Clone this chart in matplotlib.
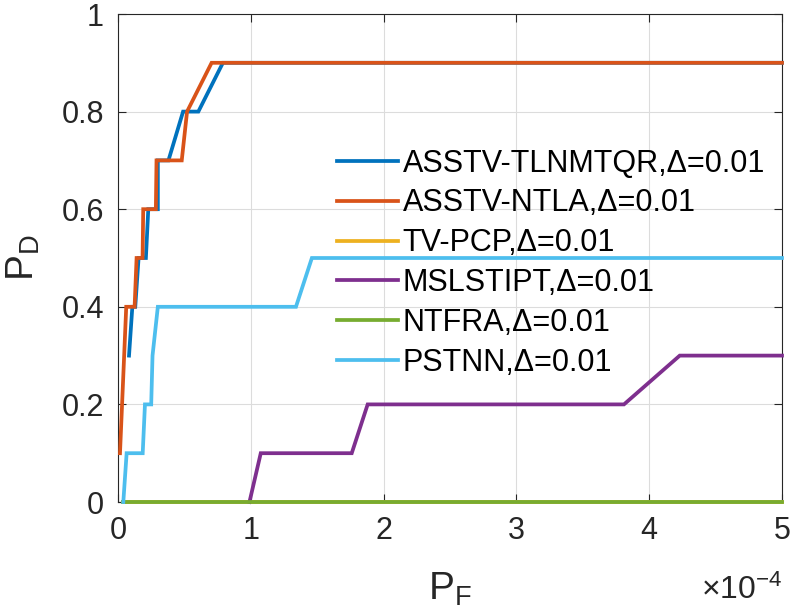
import numpy as np
import matplotlib
matplotlib.use('Agg')
import matplotlib.pyplot as plt

plt.rcParams['font.family'] = ['Liberation Sans', 'DejaVu Sans']
plt.rcParams['mathtext.default'] = 'regular'

# P_F in units of 1e-4, P_D
tlnmtqr_pf = [0.083, 0.108, 0.13, 0.155, 0.21, 0.228, 0.30, 0.30, 0.38, 0.49, 0.605, 0.79, 5.0]
tlnmtqr_pd = [0.3, 0.4, 0.4, 0.5, 0.5, 0.6, 0.6, 0.7, 0.7, 0.8, 0.8, 0.9, 0.9]

ntla_pf = [0.015, 0.062, 0.125, 0.14, 0.185, 0.19, 0.285, 0.29, 0.48, 0.52, 0.705, 5.0]
ntla_pd = [0.1, 0.4, 0.4, 0.5, 0.5, 0.6, 0.6, 0.7, 0.7, 0.8, 0.9, 0.9]

tvpcp_pf = [0.04, 5.0]
tvpcp_pd = [0.0, 0.0]

mslstipt_pf = [0.99, 1.075, 1.76, 1.88, 3.81, 4.23, 5.0]
mslstipt_pd = [0.0, 0.1, 0.1, 0.2, 0.2, 0.3, 0.3]

ntfra_pf = [0.04, 5.0]
ntfra_pd = [0.0, 0.0]

pstnn_pf = [0.04, 0.065, 0.186, 0.203, 0.25, 0.26, 0.30, 1.34, 1.46, 5.0]
pstnn_pd = [0.0, 0.1, 0.1, 0.2, 0.2, 0.3, 0.4, 0.4, 0.5, 0.5]

labels = ['ASSTV-TLNMTQR,\u0394=0.01', 'ASSTV-NTLA,\u0394=0.01', 'TV-PCP,\u0394=0.01',
          'MSLSTIPT,\u0394=0.01', 'NTFRA,\u0394=0.01', 'PSTNN,\u0394=0.01']
colors = ['#0072BD', '#D95319', '#EDB120', '#7E2F8E', '#77AC30', '#4DBEEE']

fig = plt.figure(figsize=(7.94, 6.15), dpi=100)
ax = fig.add_axes([118/794, 1 - 502/615, 664/794, 488/615])

series = [(tlnmtqr_pf, tlnmtqr_pd), (ntla_pf, ntla_pd), (tvpcp_pf, tvpcp_pd),
          (mslstipt_pf, mslstipt_pd), (ntfra_pf, ntfra_pd), (pstnn_pf, pstnn_pd)]
for (x, y), lab, c in zip(series, labels, colors):
    ax.plot(x, y, color=c, lw=2.7, label=lab, clip_on=False, zorder=3,
            solid_joinstyle='miter')

ax.set_xlim(0, 5)
ax.set_ylim(0, 1)
ax.set_xticks([0, 1, 2, 3, 4, 5])
ax.set_yticks([0, 0.2, 0.4, 0.6, 0.8, 1])
ax.set_yticklabels(['0', '0.2', '0.4', '0.6', '0.8', '1'])
ax.grid(True, color='#dcdcdc', lw=0.8)
ax.set_axisbelow(True)
ax.tick_params(direction='in', top=True, right=True, labelsize=22, length=6, width=0.8, pad=10,
               colors='#262626', labelcolor='#262626')
for s in ax.spines.values():
    s.set_color('#262626')
    s.set_linewidth(0.8)

ax.set_xlabel('P$_F$', fontsize=28, color='#262626', labelpad=18)
ax.set_ylabel('P$_D$', fontsize=28, color='#262626', labelpad=14)
ax.text(1.0, -0.199, '\u00d710$^{-4}$', transform=ax.transAxes, ha='right', va='baseline',
        fontsize=23, color='#262626')

ax.legend(loc='upper left', bbox_to_anchor=(0.33, 0.724), frameon=False, fontsize=22,
          handlelength=2.0, handletextpad=0.15, labelspacing=0.32, borderpad=0,
          borderaxespad=0)

fig.savefig('out.png', dpi=100)
